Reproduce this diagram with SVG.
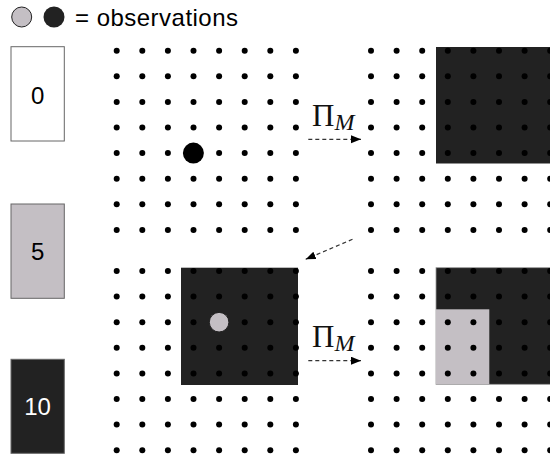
<svg xmlns="http://www.w3.org/2000/svg" xmlns:xlink="http://www.w3.org/1999/xlink" width="550" height="458" viewBox="0 0 550 458">
  <style>
    .lbl { font-family: "Liberation Sans", Arial, sans-serif; font-size: 24px; }
    .pi { font-family: "Liberation Serif", "DejaVu Serif", serif; font-size: 31px; fill: #111; }
    .sub { font-family: "Liberation Serif", "DejaVu Serif", serif; font-size: 24px; font-style: italic; fill: #111; }
    .dark { fill: #222222; }
    .grey { fill: #c4bfc4; }
    .dot { fill: #000; }
    .conn { stroke: #333; stroke-width: 1.2; stroke-dasharray: 4 3; fill: none; }
  </style>
  <defs>
    <marker id="ah" markerUnits="userSpaceOnUse" markerWidth="11" markerHeight="9" refX="10" refY="4" orient="auto">
      <path d="M0,0 L10,4 L0,8 z" fill="#000"/>
    </marker>
    <g id="row">
      <circle class="dot" cx="116.7" cy="0" r="3"/>
      <circle class="dot" cx="142.3" cy="0" r="3"/>
      <circle class="dot" cx="167.9" cy="0" r="3"/>
      <circle class="dot" cx="193.5" cy="0" r="3"/>
      <circle class="dot" cx="219.1" cy="0" r="3"/>
      <circle class="dot" cx="244.7" cy="0" r="3"/>
      <circle class="dot" cx="270.3" cy="0" r="3"/>
      <circle class="dot" cx="295.9" cy="0" r="3"/>
      <circle class="dot" cx="371" cy="0" r="3"/>
      <circle class="dot" cx="396.6" cy="0" r="3"/>
      <circle class="dot" cx="422.2" cy="0" r="3"/>
      <circle class="dot" cx="447.8" cy="0" r="3"/>
      <circle class="dot" cx="473.4" cy="0" r="3"/>
      <circle class="dot" cx="499" cy="0" r="3"/>
      <circle class="dot" cx="524.6" cy="0" r="3"/>
      <circle class="dot" cx="550.2" cy="0" r="3"/>
    </g>
  </defs>
  <rect width="550" height="458" fill="#fff"/>

  <!-- legend -->
  <g id="legend-observations">
    <circle cx="21.7" cy="17" r="10" class="grey" stroke="#222" stroke-width="1"/>
    <circle cx="54" cy="17" r="10.5" class="dark"/>
    <text x="75" y="26" class="lbl" fill="#000" textLength="163" lengthAdjust="spacing">= observations</text>
  </g>
  <g id="legend-0">
    <rect x="11" y="46.7" width="53.3" height="94.3" fill="#fff" stroke="#666" stroke-width="1"/>
    <text x="37.6" y="103.5" class="lbl" text-anchor="middle" fill="#000">0</text>
  </g>
  <g id="legend-5">
    <rect x="11" y="204" width="53.3" height="94.3" class="grey" stroke="#666" stroke-width="1"/>
    <text x="37.6" y="260" class="lbl" text-anchor="middle" fill="#000">5</text>
  </g>
  <g id="legend-10">
    <rect x="11" y="359.3" width="53.3" height="94" class="dark" stroke="#666" stroke-width="1"/>
    <text x="37.6" y="415" class="lbl" text-anchor="middle" fill="#fff">10</text>
  </g>

  <!-- shaded regions -->
  <g id="region-top-right">
    <rect x="436" y="47" width="120" height="116.5" class="dark"/>
  </g>
  <g id="region-bottom-left">
    <rect x="181" y="267.7" width="117" height="117.3" class="dark"/>
  </g>
  <g id="region-bottom-right">
    <rect x="436" y="267.7" width="120" height="116.6" class="dark" stroke="#999" stroke-width="0.8"/>
    <rect x="436" y="309.3" width="53.3" height="75" class="grey"/>
  </g>

  <!-- dot grids -->
  <g id="grid-top">
    <use xlink:href="#row" y="50.7"/>
    <use xlink:href="#row" y="76.3"/>
    <use xlink:href="#row" y="101.9"/>
    <use xlink:href="#row" y="127.5"/>
    <use xlink:href="#row" y="153.1"/>
    <use xlink:href="#row" y="178.7"/>
    <use xlink:href="#row" y="204.3"/>
    <use xlink:href="#row" y="229.9"/>
  </g>
  <g id="grid-bottom">
    <use xlink:href="#row" y="271"/>
    <use xlink:href="#row" y="296.6"/>
    <use xlink:href="#row" y="322.2"/>
    <use xlink:href="#row" y="347.8"/>
    <use xlink:href="#row" y="373.4"/>
    <use xlink:href="#row" y="399"/>
    <use xlink:href="#row" y="424.6"/>
    <use xlink:href="#row" y="450.2"/>
  </g>

  <!-- observations -->
  <g id="obs-black">
    <circle cx="193.4" cy="153.1" r="10.5" fill="#000"/>
  </g>
  <g id="obs-grey">
    <circle cx="219.1" cy="322.2" r="9.8" class="grey" stroke="#222" stroke-width="1"/>
  </g>

  <!-- connectors -->
  <g id="connectors">
    <line x1="308.3" y1="139.3" x2="361" y2="139.3" class="conn" marker-end="url(#ah)"/>
    <line x1="308.3" y1="360.7" x2="361" y2="360.7" class="conn" marker-end="url(#ah)"/>
    <line x1="352.5" y1="239.3" x2="305.7" y2="259.3" class="conn" marker-end="url(#ah)"/>
  </g>
  <g id="labels">
    <text x="312" y="125.5"><tspan class="pi">Π</tspan><tspan class="sub" dy="4">M</tspan></text>
    <text x="312" y="346.5"><tspan class="pi">Π</tspan><tspan class="sub" dy="4">M</tspan></text>
  </g>
</svg>
